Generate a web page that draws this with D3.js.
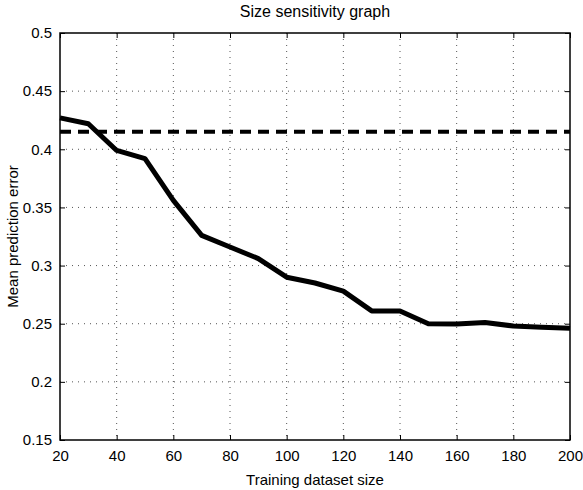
<!DOCTYPE html>
<html>
<head>
<meta charset="utf-8">
<script src="https://cdn.jsdelivr.net/npm/d3@7"></script>
<style>
	body { margin: 0; background: #fff; }
	svg text { font-family: "Liberation Sans", Arial, sans-serif; fill: #000; }
	.grid line { stroke: #555; stroke-width: 1; stroke-dasharray: 1,5; }
</style>
</head>
<body>
<div id="chart"></div>
<script>
// data
const sizes = [20, 30, 40, 50, 60, 70, 80, 90, 100, 110, 120, 130, 140, 150, 160, 170, 180, 190, 200];
const errors = [0.427, 0.422, 0.399, 0.392, 0.356, 0.326, 0.316, 0.306, 0.290, 0.285, 0.278, 0.261, 0.261, 0.250, 0.2497, 0.251, 0.248, 0.247, 0.246];
const baseline = 0.415;
const xTicks = [20, 40, 60, 80, 100, 120, 140, 160, 180, 200];
const yTicks = [0.15, 0.2, 0.25, 0.3, 0.35, 0.4, 0.45, 0.5];

const W = 583, H = 490,
	m = { top: 33, right: 13, bottom: 50, left: 60 };
const width = W - m.left - m.right,
	height = H - m.top - m.bottom;

const x = d3.scaleLinear().domain([20, 200]).range([0, width]);
const y = d3.scaleLinear().domain([0.15, 0.5]).range([height, 0]);

const svg = d3.select('#chart').append('svg')
	.attr('width', W)
	.attr('height', H);

const g = svg.append('g')
	.attr('transform', `translate(${m.left},${m.top})`);

// grid (dotted)
g.append('g').classed('grid', true)
	.selectAll('line')
	.data(xTicks.slice(1, -1))
	.enter().append('line')
	.attr('x1', d => x(d)).attr('x2', d => x(d))
	.attr('y1', 0).attr('y2', height);

g.append('g').classed('grid', true)
	.selectAll('line')
	.data(yTicks.slice(1, -1))
	.enter().append('line')
	.attr('y1', d => y(d)).attr('y2', d => y(d))
	.attr('x1', 0).attr('x2', width);

// axes, ticks inside on all four sides
const tickLen = 5;
const styleAxis = sel => {
	sel.select('.domain').remove();
	sel.selectAll('.tick line').attr('stroke', '#000').attr('stroke-width', 1);
	sel.selectAll('.tick text').style('font-size', '15px');
};

g.append('g')
	.attr('transform', `translate(0,${height})`)
	.call(d3.axisBottom(x).tickValues(xTicks).tickSizeInner(-tickLen).tickSizeOuter(0).tickPadding(10))
	.call(styleAxis);

g.append('g')
	.call(d3.axisTop(x).tickValues(xTicks).tickSizeInner(-tickLen).tickSizeOuter(0).tickFormat(''))
	.call(styleAxis);

g.append('g')
	.call(d3.axisLeft(y).tickValues(yTicks).tickSizeInner(-tickLen).tickSizeOuter(0).tickPadding(8).tickFormat(d3.format('')))
	.call(styleAxis);

g.append('g')
	.attr('transform', `translate(${width},0)`)
	.call(d3.axisRight(y).tickValues(yTicks).tickSizeInner(-tickLen).tickSizeOuter(0).tickFormat(''))
	.call(styleAxis);

// box
g.append('rect')
	.attr('width', width).attr('height', height)
	.attr('fill', 'none').attr('stroke', '#000').attr('stroke-width', 1.5);

// dashed reference line
g.append('line')
	.attr('x1', x(20)).attr('x2', x(200))
	.attr('y1', y(baseline)).attr('y2', y(baseline))
	.attr('stroke', '#000').attr('stroke-width', 4)
	.attr('stroke-dasharray', '11,7');

// error curve
const line = d3.line()
	.x((d, i) => x(sizes[i]))
	.y(d => y(d));

g.append('path')
	.datum(errors)
	.attr('d', line)
	.attr('fill', 'none')
	.attr('stroke', '#000')
	.attr('stroke-width', 5)
	.attr('stroke-linejoin', 'round');

// labels
svg.append('text')
	.attr('x', m.left + width / 2).attr('y', 17)
	.attr('text-anchor', 'middle')
	.style('font-size', '16px')
	.text('Size sensitivity graph');

svg.append('text')
	.attr('x', m.left + width / 2).attr('y', 485)
	.attr('text-anchor', 'middle')
	.style('font-size', '15px')
	.text('Training dataset size');

svg.append('text')
	.attr('transform', `translate(18,${m.top + height / 2}) rotate(-90)`)
	.attr('text-anchor', 'middle')
	.style('font-size', '15px')
	.text('Mean prediction error');
</script>
</body>
</html>
